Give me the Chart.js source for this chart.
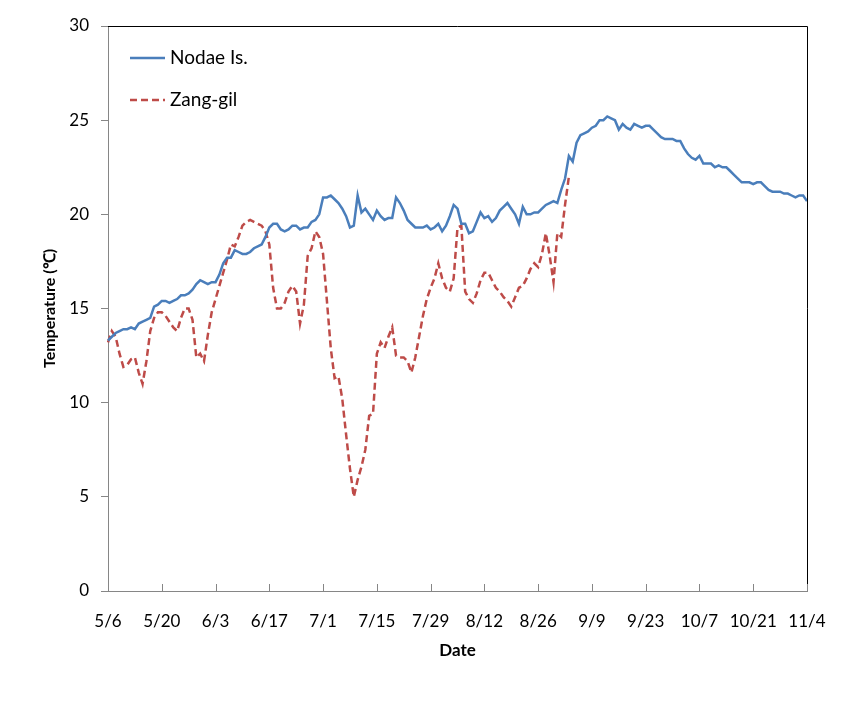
<!DOCTYPE html>
<html>
<head>
<meta charset="utf-8">
<script src="https://cdn.jsdelivr.net/npm/chart.js@4"></script>
<style>
  html, body { margin: 0; padding: 0; background: #fff; }
  #wrap { width: 851px; height: 701px; }
</style>
</head>
<body>
<div id="wrap"><canvas id="grafico" width="851" height="701"></canvas></div>
<script>
// Dias de 5/6 a 11/4 (um ponto por dia)
var startMonth = 5, startDay = 6, numDays = 183;
var tickLabels = ['5/6', '5/20', '6/3', '6/17', '7/1', '7/15', '7/29', '8/12', '8/26', '9/9', '9/23', '10/7', '10/21', '11/4'];
var yTicks = [0, 5, 10, 15, 20, 25, 30];

var nodae = [
	13.3, 13.5, 13.7, 13.8, 13.9, 13.9, 14.0, 13.9, 14.2, 14.3,
	14.4, 14.5, 15.1, 15.2, 15.4, 15.4, 15.3, 15.4, 15.5, 15.7,
	15.7, 15.8, 16.0, 16.3, 16.5, 16.4, 16.3, 16.4, 16.4, 16.8,
	17.4, 17.7, 17.7, 18.1, 18.0, 17.9, 17.9, 18.0, 18.2, 18.3,
	18.4, 18.8, 19.3, 19.5, 19.5, 19.2, 19.1, 19.2, 19.4, 19.4,
	19.2, 19.3, 19.3, 19.6, 19.7, 20.0, 20.9, 20.9, 21.0, 20.8,
	20.6, 20.3, 19.9, 19.3, 19.4, 21.0, 20.1, 20.3, 20.0, 19.7,
	20.2, 19.9, 19.7, 19.8, 19.8, 20.9, 20.6, 20.2, 19.7, 19.5,
	19.3, 19.3, 19.3, 19.4, 19.2, 19.3, 19.5, 19.1, 19.4, 19.9,
	20.5, 20.3, 19.5, 19.5, 19.0, 19.1, 19.6, 20.1, 19.8, 19.9,
	19.6, 19.8, 20.2, 20.4, 20.6, 20.3, 20.0, 19.5, 20.4, 20.0,
	20.0, 20.1, 20.1, 20.3, 20.5, 20.6, 20.7, 20.6, 21.3, 21.9,
	23.1, 22.8, 23.8, 24.2, 24.3, 24.4, 24.6, 24.7, 25.0, 25.0,
	25.2, 25.1, 25.0, 24.5, 24.8, 24.6, 24.5, 24.8, 24.7, 24.6,
	24.7, 24.7, 24.5, 24.3, 24.1, 24.0, 24.0, 24.0, 23.9, 23.9,
	23.5, 23.2, 23.0, 22.9, 23.1, 22.7, 22.7, 22.7, 22.5, 22.6,
	22.5, 22.5, 22.3, 22.1, 21.9, 21.7, 21.7, 21.7, 21.6, 21.7,
	21.7, 21.5, 21.3, 21.2, 21.2, 21.2, 21.1, 21.1, 21.0, 20.9,
	21.0, 21.0, 20.7
];

var zanggil = [
	13.2, 13.8, 13.5, 12.6, 11.9, 12.0, 12.3, 12.4, 11.6, 11.0,
	12.2, 13.8, 14.5, 14.8, 14.8, 14.6, 14.3, 14.0, 13.8, 14.5,
	15.0, 15.0, 14.4, 12.4, 12.6, 12.2, 13.6, 14.8, 15.5, 16.2,
	16.9, 17.6, 18.4, 18.3, 18.8, 19.4, 19.6, 19.7, 19.6, 19.5,
	19.4, 19.1, 18.4, 16.1, 15.0, 15.0, 15.3, 15.9, 16.2, 15.9,
	14.2, 15.2, 17.8, 18.2, 19.1, 18.8, 17.9, 15.4, 12.9, 11.3,
	11.4, 10.2, 8.3, 6.5, 5.0, 5.9, 6.6, 7.5, 9.3, 9.4,
	12.6, 13.2, 12.9, 13.5, 14.0, 12.5, 12.4, 12.4, 12.2, 11.6,
	12.4, 13.5, 14.6, 15.5, 16.1, 16.6, 17.4, 16.6, 16.1, 15.9,
	16.6, 19.3, 19.4, 15.9, 15.5, 15.3, 15.8, 16.5, 16.9, 16.9,
	16.5, 16.1, 15.9, 15.6, 15.4, 15.1, 15.6, 16.1, 16.2, 16.6,
	17.1, 17.4, 17.2, 17.9, 19.0, 17.8, 16.4, 19.0, 18.8, 20.5,
	22.0
];

// legendas do eixo x (m/d)
var datas = [];
for (var i = 0; i < numDays; i++) {
	var d = new Date(2000, startMonth - 1, startDay + i);
	datas.push((d.getMonth() + 1) + '/' + d.getDate());
}

var fonte = 'Lato, "Open Sans", sans-serif';
var cinza = '#868686';

// bordas de cima/direita, marcas do eixo x e legenda
var extras = {
	id: 'extras',
	afterDraw: function(chart) {
		var c = chart.ctx, a = chart.chartArea, xs = chart.scales.x;
		c.save();
		c.strokeStyle = '#000';
		c.lineWidth = 1;
		c.beginPath();
		c.moveTo(a.left, a.top + 0.5);
		c.lineTo(a.right + 0.5, a.top + 0.5);
		c.lineTo(a.right + 0.5, a.bottom);
		c.stroke();

		c.strokeStyle = cinza;
		c.beginPath();
		for (var i = 0; i < numDays; i += 14) {
			var px = Math.round(xs.getPixelForValue(i)) + 0.5;
			c.moveTo(px, a.bottom);
			c.lineTo(px, a.bottom - 7);
		}
		c.stroke();

		c.font = '19px ' + fonte;
		c.textBaseline = 'middle';
		c.fillStyle = '#000';
		chart.data.datasets.forEach(function(ds, k) {
			var y = 58 + k * 42;
			c.strokeStyle = ds.borderColor;
			c.lineWidth = 2.5;
			c.setLineDash(ds.borderDash || []);
			c.beginPath();
			c.moveTo(130, y);
			c.lineTo(165, y);
			c.stroke();
			c.setLineDash([]);
			c.fillText(ds.label, 170, y);
		});
		c.restore();
	}
};

var ctx = document.getElementById('grafico');
var chart = new Chart(ctx, {
	type: 'line',
	data: {
		labels: datas,
		datasets: [{
			label: 'Nodae Is.',
			data: nodae,
			borderColor: '#4a7ebb',
			borderWidth: 2.5,
			pointRadius: 0,
			tension: 0
		}, {
			label: 'Zang-gil',
			data: zanggil,
			borderColor: '#be4b48',
			borderWidth: 2.5,
			borderDash: [7, 4],
			pointRadius: 0,
			tension: 0
		}]
	},
	options: {
		responsive: false,
		animation: false,
		devicePixelRatio: 1,
		layout: { padding: { left: 40, top: 26, right: 44, bottom: 40 } },
		plugins: {
			legend: { display: false },
			tooltip: { enabled: false }
		},
		scales: {
			x: {
				type: 'category',
				offset: false,
				grid: { display: false, drawTicks: false },
				border: { color: cinza, width: 1 },
				ticks: {
					autoSkip: false,
					maxRotation: 0,
					padding: 20,
					color: '#000',
					font: { family: fonte, size: 17 },
					callback: function(val, index) {
						return index % 14 === 0 ? tickLabels[index / 14] : '';
					}
				},
				title: {
					display: true,
					text: 'Date',
					color: '#000',
					font: { family: fonte, size: 17, weight: 'bold' },
					padding: 0
				},
				afterFit: function(s) { s.height = 701 - 591 - 40; }
			},
			y: {
				min: 0,
				max: 30,
				afterBuildTicks: function(s) {
					s.ticks = yTicks.map(function(v) { return { value: v }; });
				},
				grid: { drawOnChartArea: false, tickLength: 7, color: cinza },
				border: { color: cinza, width: 1 },
				ticks: {
					padding: 12,
					color: '#000',
					font: { family: fonte, size: 17 }
				},
				title: {
					display: true,
					text: 'Temperature (℃)',
					color: '#000',
					font: { family: fonte, size: 16, weight: 'bold' },
					padding: 0
				},
				afterFit: function(s) { s.width = 108 - 40; }
			}
		}
	},
	plugins: [extras]
});
</script>
</body>
</html>
